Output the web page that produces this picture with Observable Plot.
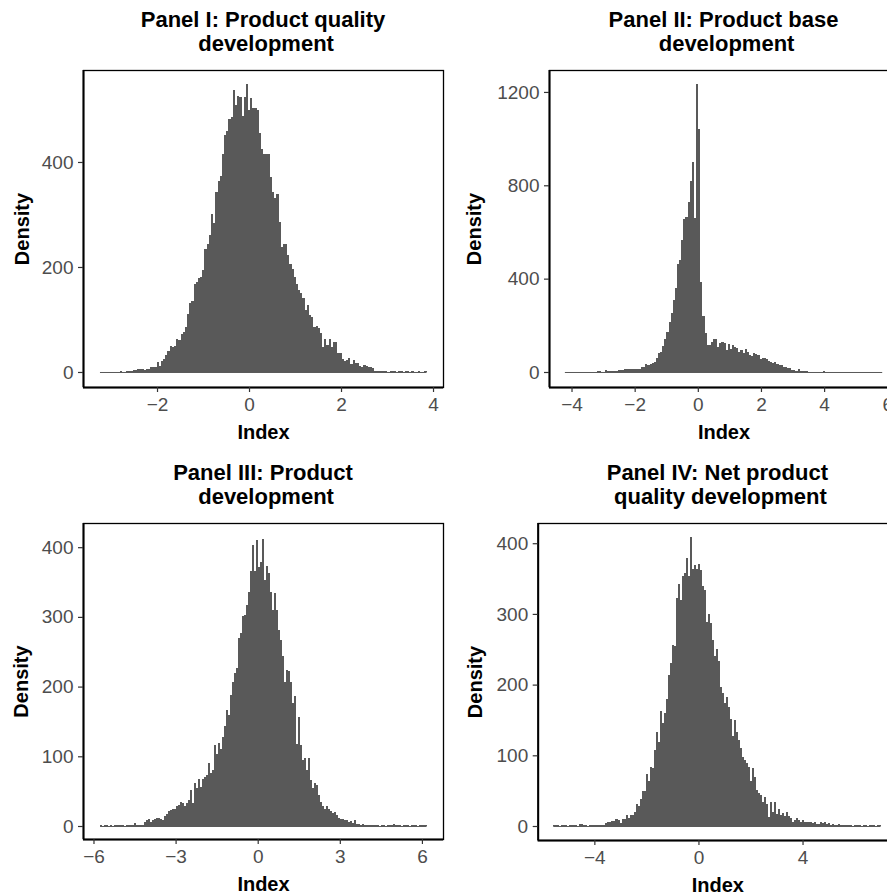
<!DOCTYPE html>
<html>
<head>
<meta charset="utf-8">
<script src="https://cdn.jsdelivr.net/npm/d3@7"></script>
<script src="https://cdn.jsdelivr.net/npm/@observablehq/plot@0.6"></script>
<style>
  html, body { margin: 0; padding: 0; background: #ffffff; }
  body { width: 887px; height: 895px; overflow: hidden; position: relative; font-family: "Liberation Sans", Arial, Helvetica, sans-serif; }
  .panel { position: absolute; }
  .panel svg { max-width: none !important; display: block; }
  .title { position: absolute; width: 420px; text-align: center; font-weight: bold; font-size: 22px; line-height: 24px; color: #000; white-space: pre; }
</style>
</head>
<body>
<script>
// ---------- Data (bin counts, left to right) ----------
const titles = [
  ["Panel I: Product quality", "\u00A0development"],
  ["Panel II: Product base", "\u00A0development"],
  ["Panel III: Product", "\u00A0development"],
  ["Panel IV: Net product", "\u00A0quality development"]
];
const xLabel = "Index";
const yLabel = "Density";

// data range (min, max of Index) per panel
const range1 = [-3.24, 3.86];
const range2 = [-4.21, 5.84];
const range3 = [-5.76, 6.17];
const range4 = [-5.58, 7.0];

const counts1 = [
  0,0,0,0,0,0,0,0,0,1,0,0,1,1,2,
  3,3,5,5,5,4,6,6,9,10,10,19,12,20,24,
  33,40,49,48,49,63,60,73,77,86,110,132,135,167,172,179,180,194,234,244,
  260,300,284,343,364,374,415,451,459,481,485,537,508,526,523,488,524,548,499,521,502,502,499,
  455,424,415,415,415,372,343,331,339,286,239,244,244,223,206,197,180,
  168,157,150,140,118,128,109,105,86,88,83,74,48,62,52,62,47,58,58,37,
  36,24,20,23,27,15,23,17,17,12,10,13,12,10,10,7,1,
  2,1,2,1,1,0,1,2,1,0,1,1,0,1,1,0,2,0,0,1,0,0,1
];
const counts2 = [
  0,0,0,0,0,0,0,0,0,0,0,0,0,0,1,
  4,4,0,2,9,3,5,4,4,6,9,8,10,11,12,13,12,13,13,14,13,20,
  23,33,29,33,37,41,59,80,87,111,140,171,214,254,309,359,463,480,566,657,663,
  730,820,900,660,1234,1040,386,240,166,116,
  116,130,140,143,109,126,129,123,94,120,97,116,109,101,87,94,80,97,86,73,69,83,
  77,71,57,59,61,55,49,44,37,44,33,30,30,23,20,16,17,9,9,6,11,6,4,4,3,1,
  1,1,1,1,0,1,4,1,0,1,0,1,0,1,0,0,1,0,1,1,0,0,1,0,1,0,0,1,0,1,0,0,1,1
];
const counts3 = [
  1,0,1,1,0,1,0,1,1,2,1,1,0,1,2,1,1,
  5,2,2,1,2,6,9,10,6,8,10,12,11,10,9,14,17,21,23,25,24,29,30,35,33,28,33,38,
  52,33,61,54,67,56,68,71,73,91,76,80,116,104,119,111,128,143,166,159,188,207,219,226,269,277,301,303,317,336,
  366,403,366,410,372,379,412,353,373,363,336,310,334,310,281,267,244,207,224,223,207,177,186,118,157,116,95,97,80,97,
  66,54,61,59,44,35,28,24,28,25,22,19,20,16,12,10,10,8,9,6,7,5,8,
  3,3,2,3,2,1,1,2,1,1,1,0,1,1,0,1,1,1,3,2,
  1,1,0,1,1,1,0,1,1,1,0,1,1,1,1
];
const counts4 = [
  1,1,1,0,1,1,1,0,1,2,1,1,0,3,3,1,1,0,1,1,1,1,2,1,1,2,
  4,5,5,7,7,10,8,4,10,10,16,11,16,16,20,31,28,38,49,49,74,64,83,82,107,
  133,119,162,145,160,179,214,230,256,254,322,343,320,354,358,379,353,409,364,369,363,371,362,339,334,289,300,287,263,240,
  251,234,197,188,174,182,169,152,127,150,133,122,111,98,93,89,83,64,82,70,51,47,44,34,41,31,13,34,20,34,
  17,24,16,19,14,20,14,12,6,9,12,8,6,8,6,6,5,6,4,6,3,3,5,4,5,3,4,2,3,2,2,3,2,2,
  1,2,1,1,0,1,1,1,0,1,1,0,1,1,1,0,1,1
];

const xTicks1 = [-2, 0, 2, 4];
const xTicks2 = [-4, -2, 0, 2, 4, 6];
const xTicks3 = [-6, -3, 0, 3, 6];
const xTicks4 = [-4, 0, 4];
const yTicks1 = [0, 200, 400];
const yTicks2 = [0, 400, 800, 1200];
const yTicks3 = [0, 100, 200, 300, 400];
const yTicks4 = [0, 100, 200, 300, 400];

// ---------- Layout ----------
const panels = [
  {counts: counts1, range: range1, xTicks: xTicks1, yTicks: yTicks1, title: titles[0],
   left: 0, top: 0, width: 460, height: 445, mL: 83, mR: 17, mT: 70, mB: 58,
   xDomain: [-3.609, 4.217], yDomain: [-28.6, 575.2], yLabelDx: -61},
  {counts: counts2, range: range2, xTicks: xTicks2, yTicks: yTicks2, title: titles[1],
   left: 460, top: 0, width: 460, height: 445, mL: 89, mR: 22, mT: 70, mB: 58,
   xDomain: [-4.713, 6.34], yDomain: [-64.3, 1294], yLabelDx: -75},
  {counts: counts3, range: range3, xTicks: xTicks3, yTicks: yTicks3, title: titles[2],
   left: 0, top: 445, width: 460, height: 450, mL: 83, mR: 17, mT: 78, mB: 56,
   xDomain: [-6.383, 6.77], yDomain: [-18.65, 434.7], yLabelDx: -62},
  {counts: counts4, range: range4, xTicks: xTicks4, yTicks: yTicks4, title: titles[3],
   left: 460, top: 445, width: 460, height: 450, mL: 77.7, mR: 23, mT: 78, mB: 55,
   xDomain: [-6.177, 7.63], yDomain: [-19.8, 428.6], yLabelDx: -63}
];

const FONT = "'Liberation Sans', Arial, Helvetica, sans-serif";

for (const p of panels) {
  const n = p.counts.length;
  const bw = (p.range[1] - p.range[0]) / n;
  const bins = p.counts.map((c, i) => ({x1: p.range[0] + i * bw, x2: p.range[0] + (i + 1) * bw, y: c}));

  const chart = Plot.plot({
    width: p.width, height: p.height,
    marginLeft: p.mL, marginRight: p.mR, marginTop: p.mT, marginBottom: p.mB,
    x: {domain: p.xDomain},
    y: {domain: p.yDomain},
    style: {fontFamily: FONT, fontSize: "19px", background: "transparent", overflow: "visible", maxWidth: "none"},
    marks: [
      Plot.rectY(bins, {x1: "x1", x2: "x2", y: "y", fill: "#595959", shapeRendering: "crispEdges"}),
      Plot.ruleY([0], {x1: p.range[0], x2: p.range[1], stroke: "#595959", strokeWidth: 1}),
      Plot.frame({stroke: "#000", strokeWidth: 1.3}),
      Plot.ruleX([p.xDomain[0]], {stroke: "#000", strokeWidth: 2}),
      Plot.ruleY([p.yDomain[0]], {stroke: "#000", strokeWidth: 2}),
      Plot.axisX(p.xTicks, {tickSize: 5, tickPadding: 5, stroke: "#333333", strokeWidth: 1.2, fill: "#4D4D4D", fontSize: 19, tickFormat: "d", label: null}),
      Plot.axisY(p.yTicks, {tickSize: 5, tickPadding: 5, stroke: "#333333", strokeWidth: 1.2, fill: "#4D4D4D", fontSize: 19, tickFormat: "d", label: null}),
      Plot.text([xLabel], {text: d => d, frameAnchor: "bottom", dy: 45, lineAnchor: "middle", fontWeight: "bold", fontSize: 20, fill: "#000"}),
      Plot.text([yLabel], {text: d => d, frameAnchor: "left", dx: p.yLabelDx, rotate: -90, lineAnchor: "middle", textAnchor: "middle", fontWeight: "bold", fontSize: 20, fill: "#000"})
    ]
  });
  const holder = document.createElement("div");
  holder.className = "panel";
  holder.style.left = p.left + "px";
  holder.style.top = p.top + "px";
  holder.style.width = p.width + "px";
  holder.style.height = p.height + "px";
  holder.appendChild(chart);
  document.body.appendChild(holder);

  // title centred over the panel box
  const boxCenter = p.left + p.mL + (p.width - p.mL - p.mR) / 2;
  const t = document.createElement("div");
  t.className = "title";
  t.style.left = (boxCenter - 210) + "px";
  t.style.top = (p.top + p.mT - 61.6) + "px";
  t.textContent = p.title.join("\n");
  document.body.appendChild(t);
}
</script>
</body>
</html>
